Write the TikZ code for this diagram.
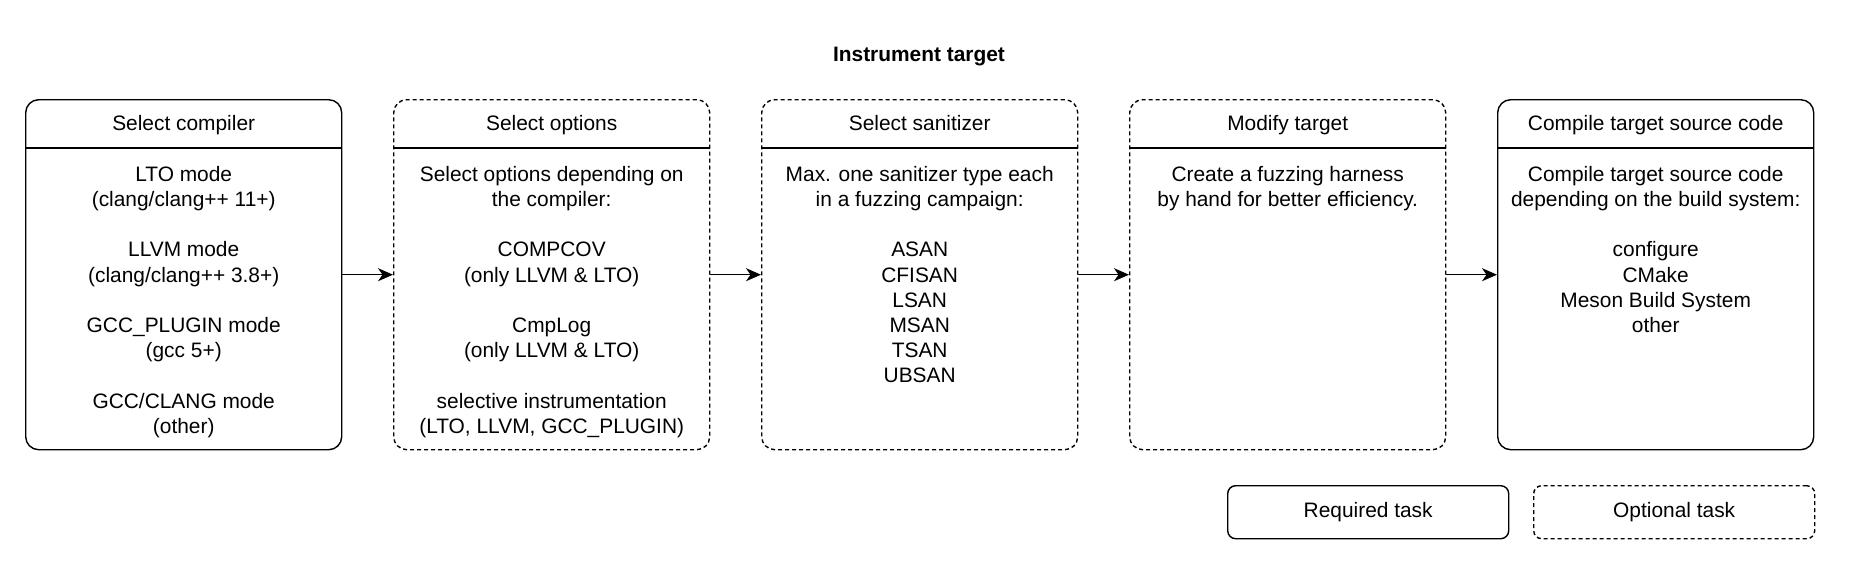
\documentclass[tikz,border=0pt]{standalone}
\usepackage{fontspec}
\setmainfont{Liberation Sans}
\usetikzlibrary{arrows.meta}
\begin{document}
\begin{tikzpicture}[x=1pt,y=-1pt,
  txt/.style={font=\fontsize{20.9}{25.2}\selectfont, inner sep=0pt},
  reqbox/.style={draw, line width=1.4pt, rounded corners=13pt, minimum width=316pt, minimum height=350pt, anchor=north west, inner sep=0pt},
  optbox/.style={reqbox, dash pattern=on 4pt off 3pt},
  head/.style={txt, anchor=base},
  body/.style={txt, anchor=north, align=center},
  sep/.style={line width=1.4pt},
  conn/.style={line width=1.4pt, -{Stealth[length=15pt,width=13pt,inset=4.5pt]}},
  legreq/.style={draw, line width=1.4pt, rounded corners=8pt, minimum width=281pt, minimum height=53pt, anchor=north west, inner sep=0pt},
  legopt/.style={legreq, dash pattern=on 4pt off 3pt},
]
\useasboundingbox (0,0) rectangle (1853,563);
\node[txt, anchor=base, font=\fontsize{20.9}{25.2}\selectfont\bfseries] (title) at (919,61) {Instrument target};

\node[reqbox] (b1) at (25,99) {};
\node[optbox] (b2) at (393,99) {};
\node[optbox] (b3) at (761,99) {};
\node[optbox] (b4) at (1129,99) {};
\node[reqbox] (b5) at (1497,99) {};

\foreach \b in {b1,b2,b3,b4,b5}{
  \draw[sep] ([yshift=-49pt]\b.north west) -- ([yshift=-49pt]\b.north east);
}

\node[head] (h1) at ([yshift=-31pt]b1.north) {Select compiler};
\node[head] (h2) at ([yshift=-31pt]b2.north) {Select options};
\node[head] (h3) at ([yshift=-31pt]b3.north) {Select sanitizer};
\node[head] (h4) at ([yshift=-31pt]b4.north) {Modify target};
\node[head] (h5) at ([yshift=-31pt]b5.north) {Compile target source code};

\node[body] (t1) at ([yshift=-64.4pt]b1.north) {\strut LTO mode\\(clang/clang++ 11+)\\[25.2pt]LLVM mode\\(clang/clang++ 3.8+)\\[25.2pt]GCC\_PLUGIN mode\\(gcc 5+)\\[25.2pt]GCC/CLANG mode\\(other)};
\node[body] (t2) at ([yshift=-64.4pt]b2.north) {\strut Select options depending on\\the compiler:\\[25.2pt]COMPCOV\\(only LLVM \& LTO)\\[25.2pt]CmpLog\\(only LLVM \& LTO)\\[25.2pt]selective instrumentation\\(LTO, LLVM, GCC\_PLUGIN)};
\node[body] (t3) at ([yshift=-64.4pt]b3.north) {\strut Max. one sanitizer type each\\in a fuzzing campaign:\\[25.2pt]ASAN\\CFISAN\\LSAN\\MSAN\\TSAN\\UBSAN};
\node[body] (t4) at ([yshift=-64.4pt]b4.north) {\strut Create a fuzzing harness\\by hand for better efficiency.};
\node[body] (t5) at ([yshift=-64.4pt]b5.north) {\strut Compile target source code\\depending on the build system:\\[25.2pt]configure\\CMake\\Meson Build System\\other};

\draw[conn] (b1.east) -- (b2.west);
\draw[conn] (b2.east) -- (b3.west);
\draw[conn] (b3.east) -- (b4.west);
\draw[conn] (b4.east) -- (b5.west);

\node[legreq] (lr) at (1227,485) {};
\node[legopt] (lo) at (1533,485) {};
\node[head] (lrt) at ([yshift=-5.5pt]lr.center) {Required task};
\node[head] (lot) at ([yshift=-5.5pt]lo.center) {Optional task};
\end{tikzpicture}
\end{document}
